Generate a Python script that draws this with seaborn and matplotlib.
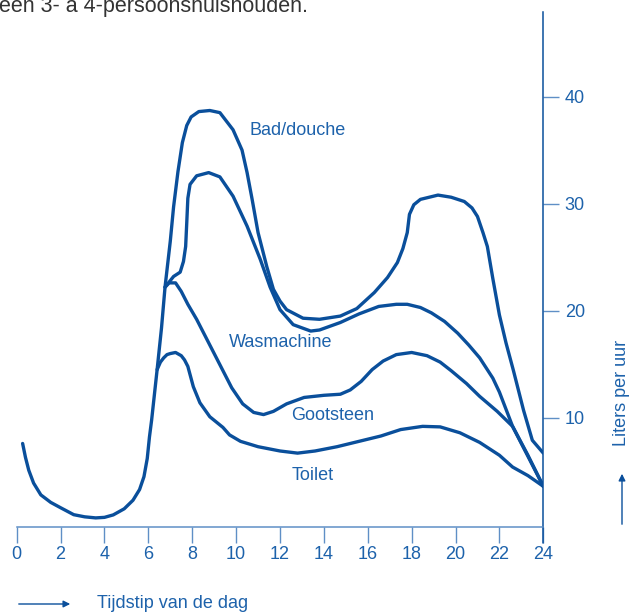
import pandas as pd
import numpy as np
import seaborn as sns
import matplotlib
matplotlib.use("Agg")
import matplotlib.pyplot as plt

# cumulatieve lijnen (liters per uur)
toilet_uur = [0.27, 0.4, 0.55, 0.77, 1.1, 1.55, 2.0, 2.6, 3.1, 3.6, 4.0, 4.4, 4.9, 5.3, 5.6,
              5.8, 5.95, 6.05, 6.15, 6.4, 6.55, 6.7, 6.85, 7.0, 7.24, 7.5, 7.65, 7.8, 8.05,
              8.35, 8.8, 9.4, 9.7, 10.2, 11.0, 12.0, 12.8, 13.6, 14.6, 15.6, 16.6, 17.5,
              18.5, 19.3, 20.2, 21.1, 22.0, 22.6, 23.3, 24.0]
toilet = [7.6, 6.3, 5.1, 3.9, 2.8, 2.1, 1.6, 0.95, 0.75, 0.65, 0.7, 0.93, 1.5, 2.3, 3.3,
          4.5, 6.2, 8.2, 9.8, 14.5, 15.2, 15.6, 15.9, 16.0, 16.1, 15.8, 15.4, 14.8, 12.9,
          11.4, 10.1, 9.1, 8.4, 7.8, 7.3, 6.9, 6.7, 6.9, 7.3, 7.8, 8.3, 8.9,
          9.2, 9.15, 8.6, 7.7, 6.5, 5.4, 4.6, 3.6]

gootsteen_uur = [6.4, 6.6, 6.76, 6.95, 7.24, 7.5, 7.8, 8.2, 8.8, 9.3, 9.8, 10.3, 10.8,
                 11.25, 11.7, 12.3, 13.1, 14.0, 14.75, 15.2, 15.7, 16.2, 16.7, 17.3, 18.0,
                 18.7, 19.3, 19.8, 20.5, 21.1, 21.9, 22.6, 23.3, 24.0]
gootsteen = [14.5, 18.4, 22.2, 22.6, 22.6, 21.8, 20.6, 19.2, 16.8, 14.8, 12.8, 11.3, 10.5,
             10.3, 10.6, 11.3, 11.9, 12.1, 12.2, 12.6, 13.4, 14.5, 15.3, 15.9, 16.1,
             15.8, 15.2, 14.4, 13.2, 12.0, 10.6, 9.2, 6.5, 3.6]

wasmachine_uur = [6.76, 7.15, 7.45, 7.6, 7.7, 7.75, 7.8, 7.9, 8.2, 8.75, 9.26, 9.86, 10.5,
                  11.1, 11.55, 12.0, 12.6, 13.4, 13.8, 14.75, 15.6, 16.5, 17.3, 17.8, 18.4,
                  18.9, 19.5, 20.1, 20.6, 21.1, 21.7, 22.0, 22.6, 23.3, 24.0]
wasmachine = [22.2, 23.2, 23.6, 24.6, 26.0, 28.2, 30.5, 31.8, 32.6, 32.9, 32.5, 30.7, 27.9,
              24.8, 22.2, 20.1, 18.7, 18.1, 18.2, 18.9, 19.7, 20.4, 20.6, 20.6, 20.3,
              19.8, 19.0, 17.9, 16.8, 15.6, 13.7, 12.4, 9.2, 6.4, 3.6]

bad_uur = [6.76, 7.0, 7.15, 7.35, 7.55, 7.75, 7.95, 8.3, 8.8, 9.26, 9.86, 10.27, 10.5,
           10.73, 11.0, 11.4, 11.7, 12.0, 12.3, 13.05, 13.8, 14.75, 15.5, 16.3, 16.9,
           17.35, 17.6, 17.8, 17.9, 18.1, 18.4, 19.2, 19.8, 20.4, 20.75, 21.0, 21.25,
           21.45, 21.7, 22.0, 22.3, 22.64, 23.1, 23.5, 24.0]
bad = [22.2, 26.5, 29.7, 33.0, 35.7, 37.3, 38.1, 38.6, 38.7, 38.5, 36.9, 35.0, 32.9,
       30.4, 27.3, 24.1, 22.0, 20.9, 20.1, 19.3, 19.2, 19.5, 20.2, 21.7, 23.1,
       24.5, 25.8, 27.3, 29.0, 29.9, 30.4, 30.8, 30.6, 30.2, 29.6, 28.8, 27.3,
       26.0, 23.0, 19.6, 17.0, 14.4, 10.7, 7.9, 6.7]

x_ticks = list(range(0, 25, 2))
y_ticks = [10, 20, 30, 40]

LINE = "#0a4f9b"
TEXT = "#1d62ab"
LIGHT = "#5f8fc6"

sns.set_style("white")
plt.rcParams["font.family"] = ["Liberation Sans", "DejaVu Sans"]

fig = plt.figure(figsize=(6.3, 6.13), dpi=100)
ax = fig.add_axes([16.7 / 630, 86 / 613, 526.6 / 630, 515 / 613])

curves = [(toilet_uur, toilet), (gootsteen_uur, gootsteen),
          (wasmachine_uur, wasmachine), (bad_uur, bad)]
for uur, liters in curves:
    sns.lineplot(x=uur, y=liters, ax=ax, color=LINE, lw=2.4, sort=False,
                 estimator=None, solid_capstyle="round", solid_joinstyle="round")

ax.set_xlim(0, 24)
ax.set_ylim(-0.2, 47.9)
for s in ["top", "left"]:
    ax.spines[s].set_visible(False)
ax.spines["right"].set_color(LINE)
ax.spines["right"].set_linewidth(1.1)
ax.spines["bottom"].set_color(LIGHT)
ax.spines["bottom"].set_linewidth(1.1)

ax.set_xticks(x_ticks)
ax.set_xticklabels([str(t) for t in x_ticks])
ax.tick_params(axis="x", direction="out", length=11.5, width=1.0, color=LIGHT,
               labelcolor=TEXT, labelsize=13, pad=2.5, bottom=True)
ax.yaxis.tick_right()
ax.set_yticks(y_ticks)
ax.tick_params(axis="y", direction="out", length=11.5, width=1.0, color=LIGHT,
               labelcolor=TEXT, labelsize=13, pad=4, right=True, left=False)
ax.set_xlabel("")
ax.set_ylabel("")
# verlengde verticale as onder de x-as
ax.plot([1, 1], [0, -16 / 515], transform=ax.transAxes, color=LINE, lw=1.1,
        clip_on=False)

lbl = dict(color=TEXT, fontsize=13, ha="left", va="center")
ax.text(10.59, 36.8, "Bad/douche", **lbl)
ax.text(9.68, 17.0, "Wasmachine", **lbl)
ax.text(12.5, 10.2, "Gootsteen", **lbl)
ax.text(12.55, 4.6, "Toilet", **lbl)

# afgesneden bijschrift bovenaan (ook in het origineel half buiten beeld)
fig.text(-1 / 630, 1 - 12 / 613, "een 3- à 4-persoonshuishouden.", color="#333333",
         fontsize=15.5, ha="left", va="baseline")

# asbijschriften met pijlen
fig.text(97 / 630, 1 - 604 / 613, "Tijdstip van de dag", color=TEXT, fontsize=13,
         ha="left", va="center")
fig.patches.append(matplotlib.patches.FancyArrowPatch(
    (16 / 630, 1 - 604 / 613), (73 / 630, 1 - 604 / 613), transform=fig.transFigure,
    arrowstyle="-|>", mutation_scale=10, color=LINE, lw=1.0))
fig.text(622 / 630, 1 - 393 / 613, "Liters per uur", color=TEXT, fontsize=13,
         rotation=90, ha="center", va="center")
fig.patches.append(matplotlib.patches.FancyArrowPatch(
    (622 / 630, 1 - 527 / 613), (622 / 630, 1 - 471 / 613), transform=fig.transFigure,
    arrowstyle="-|>", mutation_scale=10, color=LINE, lw=1.0))

fig.savefig("out.png", dpi=100)
